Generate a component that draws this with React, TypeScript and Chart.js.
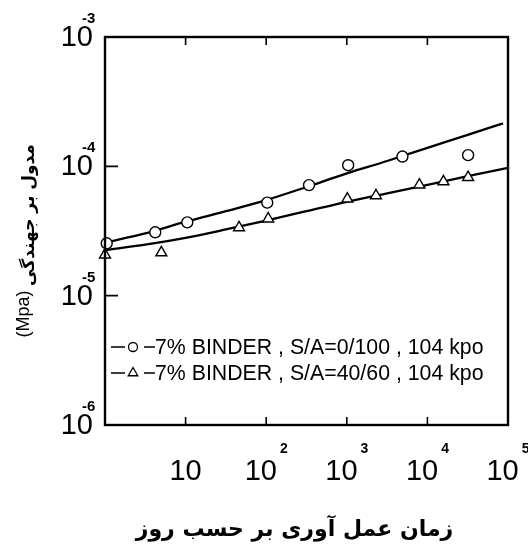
import React, { useEffect, useRef } from "react";
import { Chart, registerables } from "chart.js";

Chart.register(...registerables);

// ---- data ----
const circleX = [1.05, 4.2, 10.5, 103, 340, 1040, 4900, 32000];
const circleY = [2.54e-5, 3.09e-5, 3.69e-5, 5.24e-5, 7.16e-5, 1.02e-4, 1.19e-4, 1.22e-4];

const triangleX = [1, 5, 46, 106, 1015, 2300, 7950, 15800, 32000];
const triangleY = [2.07e-5, 2.15e-5, 3.36e-5, 3.93e-5, 5.6e-5, 5.94e-5, 7.19e-5, 7.62e-5, 8.22e-5];

const circleFitX = [1, 3.16, 10, 31.6, 100, 316, 1000, 3162, 10000, 31623, 87000];
const circleFitY = [2.58e-5, 3.03e-5, 3.73e-5, 4.5e-5, 5.48e-5, 6.92e-5, 8.83e-5, 1.1e-4, 1.39e-4, 1.75e-4, 2.15e-4];

const triFitX = [1, 3.16, 10, 31.6, 100, 316, 1000, 3162, 10000, 31623, 100000];
const triFitY = [2.25e-5, 2.48e-5, 2.8e-5, 3.25e-5, 3.81e-5, 4.5e-5, 5.32e-5, 6.19e-5, 7.18e-5, 8.41e-5, 9.75e-5];

const xTickValues = [10, 100, 1000, 10000, 100000];
const xTickExps = ["", "2", "3", "4", "5"];
const yTickValues = [1e-3, 1e-4, 1e-5, 1e-6];
const yTickExps = ["-3", "-4", "-5", "-6"];
const xInnerTicks = [10, 100, 1000, 10000];
const yInnerTicks = [1e-4, 1e-5];

const legendLabels = [
  "7% BINDER , S/A=0/100 , 104 kpo",
  "7% BINDER , S/A=40/60 , 104 kpo",
];
const xTitle = "زمان عمل آوری بر حسب روز";
const yTitleFa = "مدول بر جهندگی";
const yTitleUnit = "(Mpa)";

const zip = (xs: number[], ys: number[]) => xs.map((x, i) => ({ x, y: ys[i] }));

const NUM_FONT = "'Liberation Sans', Arial, sans-serif";
const FA_FONT = "'DejaVu Sans', sans-serif";

const decorPlugin = {
  id: "decor",
  afterDraw(chart: any) {
    const ctx = chart.ctx as CanvasRenderingContext2D;
    const { left, right, top, bottom } = chart.chartArea;
    const xs = chart.scales.x;
    const ys = chart.scales.y;
    ctx.save();
    ctx.strokeStyle = "#000";
    ctx.fillStyle = "#000";
    // frame
    ctx.lineWidth = 2.4;
    ctx.strokeRect(left, top, right - left, bottom - top);
    // inner ticks
    ctx.lineWidth = 1.6;
    ctx.beginPath();
    xInnerTicks.forEach((v) => {
      const px = xs.getPixelForValue(v);
      ctx.moveTo(px, bottom);
      ctx.lineTo(px, bottom - 8);
      ctx.moveTo(px, top);
      ctx.lineTo(px, top + 8);
    });
    yInnerTicks.forEach((v) => {
      const py = ys.getPixelForValue(v);
      ctx.moveTo(left, py);
      ctx.lineTo(left + 13, py);
    });
    ctx.stroke();

    // x tick labels
    ctx.textBaseline = "alphabetic";
    xTickValues.forEach((v, i) => {
      const px = xs.getPixelForValue(v);
      ctx.font = `29px ${NUM_FONT}`;
      const w = ctx.measureText("10").width;
      ctx.font = `bold 14px ${NUM_FONT}`;
      const ew = xTickExps[i] ? ctx.measureText(xTickExps[i]).width + 3 : 0;
      const start = px - (w + ew) / 2;
      ctx.font = `29px ${NUM_FONT}`;
      ctx.textAlign = "left";
      ctx.fillText("10", start, bottom + 55);
      if (xTickExps[i]) {
        ctx.font = `bold 14px ${NUM_FONT}`;
        ctx.fillText(xTickExps[i], start + w + 3, bottom + 28);
      }
    });

    // y tick labels
    yTickValues.forEach((v, i) => {
      const py = ys.getPixelForValue(v);
      ctx.font = `29px ${NUM_FONT}`;
      ctx.textAlign = "right";
      ctx.fillText("10", left - 12, py + 9);
      ctx.font = `bold 15px ${NUM_FONT}`;
      ctx.textAlign = "left";
      ctx.fillText(yTickExps[i], left - 23, py - 14);
    });

    // legend
    const rows = [347, 373];
    rows.forEach((ry, i) => {
      ctx.lineWidth = 1.4;
      ctx.beginPath();
      ctx.moveTo(left + 6, ry);
      ctx.lineTo(left + 20, ry);
      ctx.moveTo(left + 39, ry);
      ctx.lineTo(left + 50, ry);
      ctx.stroke();
      ctx.lineWidth = 1.3;
      ctx.beginPath();
      const mx = left + 28;
      if (i === 0) {
        ctx.arc(mx, ry, 4.5, 0, Math.PI * 2);
      } else {
        const r = 5.5;
        ctx.moveTo(mx, ry - r);
        ctx.lineTo(mx + r * 0.866, ry + r / 2);
        ctx.lineTo(mx - r * 0.866, ry + r / 2);
        ctx.closePath();
      }
      ctx.stroke();
      ctx.font = `21.3px ${NUM_FONT}`;
      ctx.textAlign = "left";
      ctx.textBaseline = "middle";
      ctx.fillText(legendLabels[i], left + 50, ry + 1);
    });

    // x title
    ctx.font = `bold 22px ${FA_FONT}`;
    ctx.textAlign = "center";
    ctx.textBaseline = "middle";
    ctx.fillText(xTitle, (left + right) / 2 - 12, 530);

    // y title
    ctx.save();
    ctx.translate(30, 215);
    ctx.rotate(-Math.PI / 2);
    ctx.font = `bold 17px ${FA_FONT}`;
    ctx.textAlign = "center";
    ctx.textBaseline = "middle";
    ctx.fillText(yTitleFa, 0, 0);
    ctx.restore();
    ctx.save();
    ctx.translate(24, 314);
    ctx.rotate(-Math.PI / 2);
    ctx.font = `18px ${NUM_FONT}`;
    ctx.textAlign = "center";
    ctx.textBaseline = "middle";
    ctx.fillText(yTitleUnit, 0, 0);
    ctx.restore();

    ctx.restore();
  },
};

export default function App() {
  const ref = useRef<HTMLCanvasElement | null>(null);
  useEffect(() => {
    document.body.style.margin = "0";
    if (!ref.current) return;
    const chart = new Chart(ref.current, {
      type: "scatter",
      data: {
        datasets: [
          {
            label: legendLabels[0],
            data: zip(circleX, circleY),
            showLine: false,
            pointStyle: "circle",
            pointRadius: 5.5,
            pointBackgroundColor: "#fff",
            pointBorderColor: "#000",
            pointBorderWidth: 1.4,
            clip: false as any,
          },
          {
            label: legendLabels[1],
            data: zip(triangleX, triangleY),
            showLine: false,
            pointStyle: "triangle",
            pointRadius: 6.3,
            pointBackgroundColor: "#fff",
            pointBorderColor: "#000",
            pointBorderWidth: 1.4,
            clip: false as any,
          },
          {
            type: "line",
            label: "fit1",
            data: zip(circleFitX, circleFitY),
            showLine: true,
            borderColor: "#000",
            borderWidth: 2.3,
            pointRadius: 0,
            cubicInterpolationMode: "monotone",
          } as any,
          {
            type: "line",
            label: "fit2",
            data: zip(triFitX, triFitY),
            showLine: true,
            borderColor: "#000",
            borderWidth: 2.3,
            pointRadius: 0,
            cubicInterpolationMode: "monotone",
          } as any,
        ],
      },
      options: {
        animation: false,
        responsive: false,
        devicePixelRatio: 1,
        layout: { padding: { left: 105, top: 37, right: 20, bottom: 125 } },
        plugins: { legend: { display: false }, tooltip: { enabled: false } },
        events: [],
        scales: {
          x: { type: "logarithmic", min: 1, max: 100000, display: false },
          y: { type: "logarithmic", min: 1e-6, max: 1e-3, display: false },
        },
      },
      plugins: [decorPlugin],
    });
    return () => chart.destroy();
  }, []);
  return (
    <div style={{ position: "absolute", left: 0, top: 0, width: 528, height: 550, background: "#fff" }}>
      <canvas ref={ref} width={528} height={550} />
    </div>
  );
}
